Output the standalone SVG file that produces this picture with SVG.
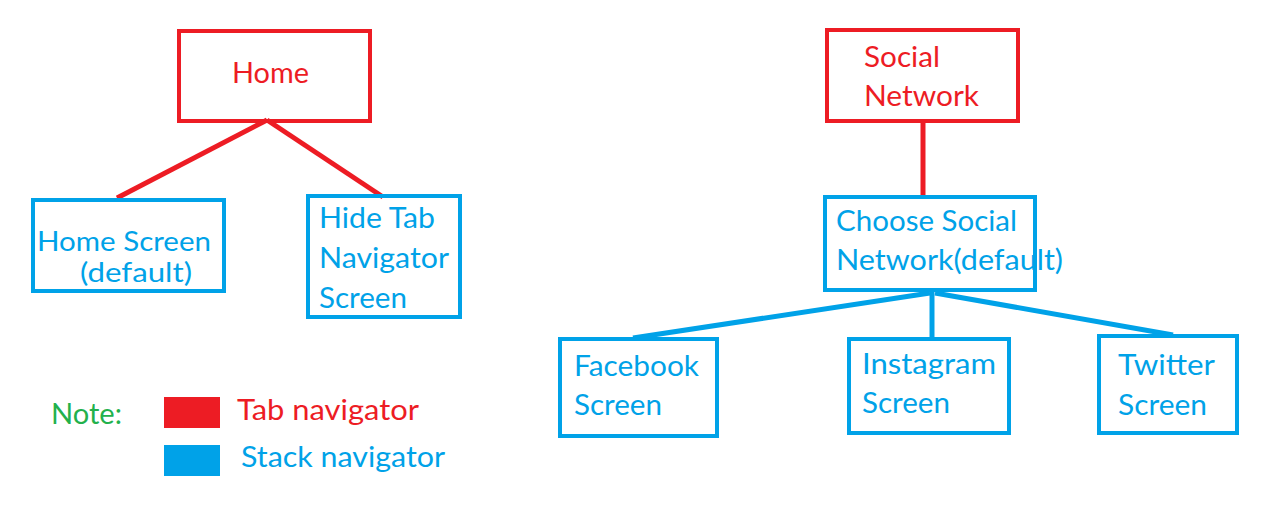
<svg xmlns="http://www.w3.org/2000/svg" width="1266" height="514" viewBox="0 0 1266 514">
<style>
text{font-family:Lato,"Liberation Sans",sans-serif;font-size:29px}
.s{font-size:26px}
.r{fill:#ED1C24}.b{fill:#00A2E8}.g{fill:#22B14C}
.tab{fill:none;stroke:#ED1C24;stroke-width:4}
.stk{fill:none;stroke:#00A2E8;stroke-width:4}
.cr{stroke:#ED1C24;stroke-width:5;fill:none}
.cb{stroke:#00A2E8;stroke-width:5;fill:none}
</style>
<rect width="1266" height="514" fill="#fff"/>
<g id="connectors">
<line class="cr" x1="267" y1="120" x2="117" y2="198"/>
<line class="cr" x1="267" y1="120" x2="383" y2="197"/>
<line class="cr" x1="923" y1="121" x2="923" y2="198"/>
<line class="cb" x1="930" y1="293" x2="633" y2="338"/>
<line class="cb" x1="932" y1="292" x2="932" y2="338"/>
<line class="cb" x1="935" y1="293" x2="1173" y2="335"/>
</g>
<g id="home">
<rect class="tab" x="179" y="31" width="191" height="90"/>
<text class="r" x="232" y="83" textLength="77" lengthAdjust="spacingAndGlyphs">Home</text>
</g>
<g id="home-screen">
<rect class="stk" x="33" y="200" width="191" height="91"/>
<text class="b s" x="37" y="251" textLength="174" lengthAdjust="spacingAndGlyphs">Home Screen</text>
<text class="b s" x="80" y="282" textLength="112" lengthAdjust="spacingAndGlyphs">(default)</text>
</g>
<g id="hide-tab">
<rect class="stk" x="308" y="196" width="152" height="121"/>
<text class="b" x="319" y="228" textLength="116" lengthAdjust="spacingAndGlyphs">Hide Tab</text>
<text class="b" x="319" y="268" textLength="130" lengthAdjust="spacingAndGlyphs">Navigator</text>
<text class="b" x="319" y="308" textLength="88" lengthAdjust="spacingAndGlyphs">Screen</text>
</g>
<g id="social-network">
<rect class="tab" x="827" y="30" width="191" height="91"/>
<text class="r" x="864" y="67" textLength="76" lengthAdjust="spacingAndGlyphs">Social</text>
<text class="r" x="864" y="106" textLength="115" lengthAdjust="spacingAndGlyphs">Network</text>
</g>
<g id="choose-social">
<rect class="stk" x="825" y="197" width="210" height="93"/>
<text class="b" x="836" y="231" textLength="181" lengthAdjust="spacingAndGlyphs">Choose Social</text>
<text class="b" x="836" y="270" textLength="227" lengthAdjust="spacingAndGlyphs">Network(default)</text>
</g>
<g id="facebook">
<rect class="stk" x="560" y="339" width="157" height="97"/>
<text class="b" x="574" y="376" textLength="125" lengthAdjust="spacingAndGlyphs">Facebook</text>
<text class="b" x="574" y="415" textLength="88" lengthAdjust="spacingAndGlyphs">Screen</text>
</g>
<g id="instagram">
<rect class="stk" x="849" y="339" width="160" height="94"/>
<text class="b" x="862" y="374" textLength="134" lengthAdjust="spacingAndGlyphs">Instagram</text>
<text class="b" x="862" y="413" textLength="88" lengthAdjust="spacingAndGlyphs">Screen</text>
</g>
<g id="twitter">
<rect class="stk" x="1099" y="336" width="138" height="97"/>
<text class="b" x="1118" y="375" textLength="97" lengthAdjust="spacingAndGlyphs">Twitter</text>
<text class="b" x="1118" y="415" textLength="89" lengthAdjust="spacingAndGlyphs">Screen</text>
</g>
<g id="legend">
<text class="g" x="51" y="424" textLength="71" lengthAdjust="spacingAndGlyphs">Note:</text>
<rect x="164" y="397" width="56" height="31" fill="#ED1C24"/>
<text class="r" x="237" y="420" textLength="182" lengthAdjust="spacingAndGlyphs">Tab navigator</text>
<rect x="164" y="445" width="56" height="31" fill="#00A2E8"/>
<text class="b" x="241" y="467" textLength="204" lengthAdjust="spacingAndGlyphs">Stack navigator</text>
</g>
</svg>
